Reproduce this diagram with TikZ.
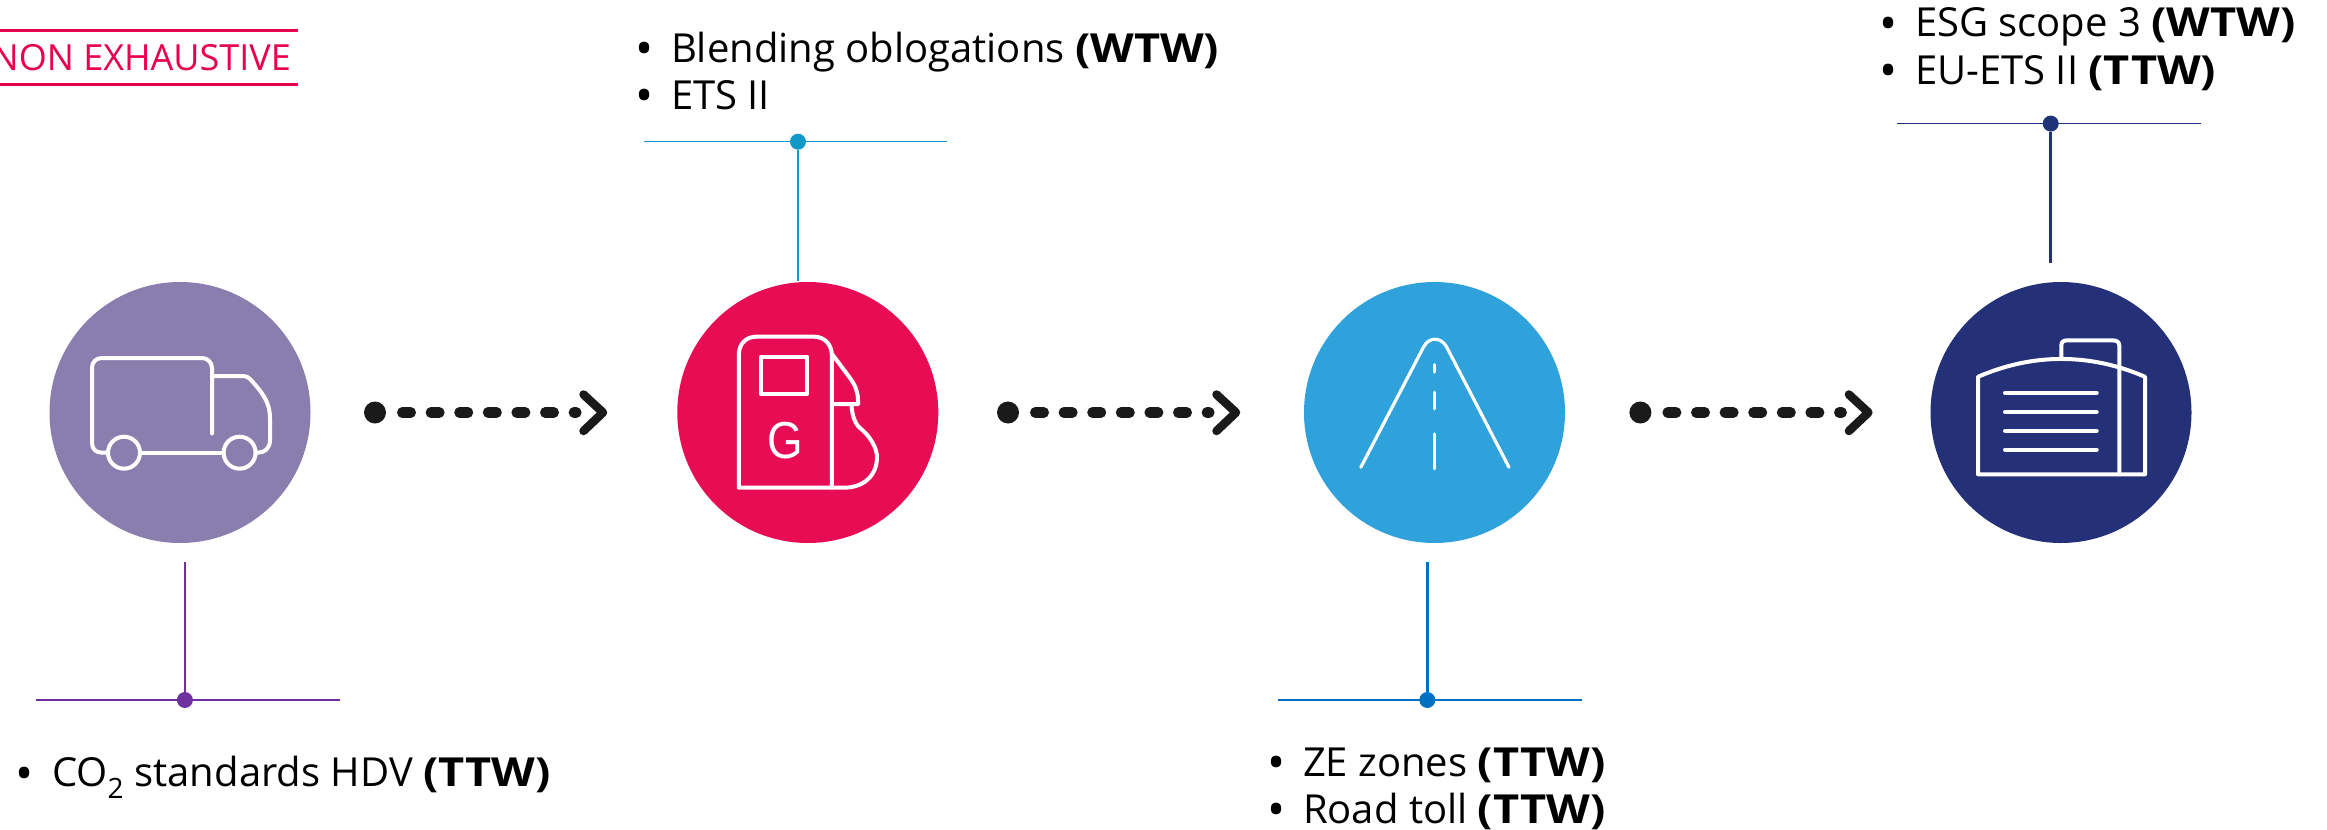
\documentclass[tikz,border=0pt]{standalone}
\usepackage{fontspec}
\setmainfont[BoldFeatures={FakeStretch=1.13}]{Open Sans}
\newfontfamily\gfont[FakeStretch=0.88]{Liberation Sans}
\definecolor{truckc}{HTML}{8A7EAE}
\definecolor{pumpc}{HTML}{E80C54}
\definecolor{roadc}{HTML}{2FA2DC}
\definecolor{bldc}{HTML}{243178}
\definecolor{ltruck}{HTML}{7030A0}
\definecolor{lpump}{HTML}{1199C8}
\definecolor{lroad}{HTML}{0070C0}
\definecolor{lbld}{HTML}{1F3478}
\definecolor{redtag}{HTML}{E8004F}
\definecolor{ink}{HTML}{1A1A1A}
\newcommand{\bul}{\makebox[36pt][l]{\raisebox{-3.5pt}{\fontsize{48}{47}\selectfont•}}}
\tikzset{
  x=1pt,y=-1pt,
  stage/.style={circle,fill=#1,draw=none,minimum size=261pt,inner sep=0pt},
  icon/.style={draw=white,line width=4pt,line join=round,line cap=round},
  thinicon/.style={draw=white,line width=3.2pt,line join=round,line cap=round},
  txt/.style={anchor=base west,inner sep=0pt,outer sep=0pt,font=\fontsize{40}{47}\selectfont},
  hub/.style={circle,fill=#1,draw=none,minimum size=16pt,inner sep=0pt},
  stem/.style={draw=#1,line width=2.5pt},
  bar/.style={draw=#1,line width=1.3pt},
  dotstart/.style={circle,fill=ink,draw=none,minimum size=22pt,inner sep=0pt},
  dots/.style={draw=ink,line width=10.5pt,line cap=round,dash pattern=on 8.5pt off 20.1pt},
  chev/.style={draw=ink,line width=8.5pt,line cap=round,line join=round},
  tagline/.style={draw=redtag,line width=3.4pt}
}
\begin{document}
\begin{tikzpicture}
\useasboundingbox (0,0) rectangle (2327,830);
\clip (0,0) rectangle (2327,830);
% tag
\coordinate (t1) at (-5,30.3); \coordinate (t2) at (298,30.3);
\coordinate (t3) at (-5,84.7); \coordinate (t4) at (298,84.7);
\draw[tagline] (t1) -- (t2);
\draw[tagline] (t3) -- (t4);
\node[anchor=base east,inner sep=0pt,text=redtag,font=\fontsize{36}{42}\selectfont] (tag) at (291,70.7) {NON EXHAUSTIVE};
% stages
\node[stage=truckc] (truck) at (180,412.5) {};
\node[stage=pumpc] (pump) at (807.8,412.5) {};
\node[stage=roadc] (road) at (1434.5,412.5) {};
\node[stage=bldc] (bld) at (2061,412.5) {};
% truck icon
\draw[icon] (212,433.5) -- (212,368) .. controls (212,362) and (207,358) .. (202,358) -- (102,358) .. controls (96,358) and (92,362) .. (92,368) -- (92,443) .. controls (92,449) and (96,452.7) .. (102,452.7) -- (108,452.7);
\draw[icon] (140,452.7) -- (223.5,452.7);
\draw[icon] (212,376) -- (243,376) .. controls (246,376) and (248,377) .. (250,379) .. controls (262,392) and (270,402) .. (270,418) -- (270,440) .. controls (270,448) and (265,452.7) .. (258,452.7) -- (255.5,452.7);
\draw[icon] (124,452.7) circle[radius=16];
\draw[icon] (239.6,452.7) circle[radius=16];
% pump icon
\draw[icon] (738.8,487.7) -- (738.8,355) .. controls (738.8,344) and (746,336.7) .. (756,336.7) -- (814,336.7) .. controls (825,336.7) and (831.8,345) .. (831.8,355) -- (831.8,487.7) -- cycle;
\draw[icon] (760.8,356.7) rectangle (807.3,394);
\draw[icon] (832,354) -- (850,378) .. controls (855,385) and (858,392) .. (858,400) -- (858,404) -- (832,404);
\draw[icon] (851.5,405) .. controls (852,415) and (855,424) .. (860,428) .. controls (870,436) and (877,448) .. (877,457) .. controls (877,477) and (862,487.7) .. (844,487.7) -- (832,487.7);
\node[inner sep=0pt,text=white,font=\gfont\fontsize{52}{52}\selectfont] (glabel) at (785.3,441) {G};
% road icon
\draw[thinicon] (1360.8,467.3) -- (1423.7,346.7) .. controls (1427,341) and (1431,339.3) .. (1434.7,339.3) .. controls (1439,339.3) and (1443,341) .. (1446.5,346.7) -- (1509,467.3);
\draw[thinicon] (1434.7,364.7) -- (1434.7,372);
\draw[thinicon] (1434.7,392.3) -- (1434.7,408.7);
\draw[thinicon] (1434.7,434) -- (1434.7,468.7);
% building icon
\draw[icon] (1978,376.8) .. controls (2033,353) and (2090,353) .. (2145,376.8) -- (2145,474.3) -- (1978,474.3) -- cycle;
\draw[icon] (2061.3,358) -- (2061.3,346) .. controls (2061.3,342) and (2063,340.4) .. (2067,340.4) -- (2113,340.4) .. controls (2117,340.4) and (2119.3,342) .. (2119.3,346) -- (2119.3,474.3);
\foreach \yy in {392.9,411.8,430.7,449.6}
  \draw[icon] (2005,\yy) -- (2096.7,\yy);
% arrows
\foreach \nm/\dx in {a/0,b/633,c/1265.4}{
  \node[dotstart] (start\nm) at (375+\dx,412.5) {};
  \coordinate (d\nm) at (402.25+\dx,412.5);
  \coordinate (e\nm) at (576.3+\dx,412.5);
  \coordinate (c1\nm) at (583.5+\dx,394.5);
  \coordinate (c2\nm) at (603+\dx,412.5);
  \coordinate (c3\nm) at (583.5+\dx,431);
  \draw[dots] (d\nm) -- (e\nm);
  \draw[chev] (c1\nm) -- (c2\nm) -- (c3\nm);
}
% connectors
\node[hub=ltruck] (h1) at (184.9,700) {};
\coordinate (s1) at (184.9,562);
\coordinate (b1l) at (35.6,700); \coordinate (b1r) at (340,700);
\draw[stem=ltruck] (s1) -- (h1);
\draw[bar=ltruck] (b1l) -- (b1r);
\node[hub=lpump] (h2) at (798,141.7) {};
\coordinate (s2) at (798,280.7);
\coordinate (b2l) at (644,141.7); \coordinate (b2r) at (947,141.7);
\draw[stem=lpump] (s2) -- (h2);
\draw[bar=lpump] (b2l) -- (b2r);
\node[hub=lroad] (h3) at (1427.3,700) {};
\coordinate (s3) at (1427.3,562);
\coordinate (b3l) at (1278,700); \coordinate (b3r) at (1582,700);
\draw[stem=lroad] (s3) -- (h3);
\draw[bar=lroad] (b3l) -- (b3r);
\node[hub=lbld] (h4) at (2050.7,123.6) {};
\coordinate (s4) at (2050.7,262.5);
\coordinate (b4l) at (1897,123.6); \coordinate (b4r) at (2200.7,123.6);
\draw[stem=lbld] (s4) -- (h4);
\draw[bar=lbld] (b4l) -- (b4r);
% texts
\node[txt] (x1) at (16,786.5) {\bul CO\textsubscript{2} standards HDV \textbf{(TTW)}};
\node[txt] (x2) at (635,62) {\bul Blending oblogations \textbf{(WTW)}};
\node[txt] (x3) at (635,109) {\bul ETS II};
\node[txt] (x4) at (1267,776) {\bul ZE zones \textbf{(TTW)}};
\node[txt] (x5) at (1267,823) {\bul Road toll \textbf{(TTW)}};
\node[txt] (x6) at (1879,36.8) {\bul ESG scope 3 \textbf{(WTW)}};
\node[txt] (x7) at (1879,84) {\bul EU-ETS II \textbf{(TTW)}};
\end{tikzpicture}
\end{document}
